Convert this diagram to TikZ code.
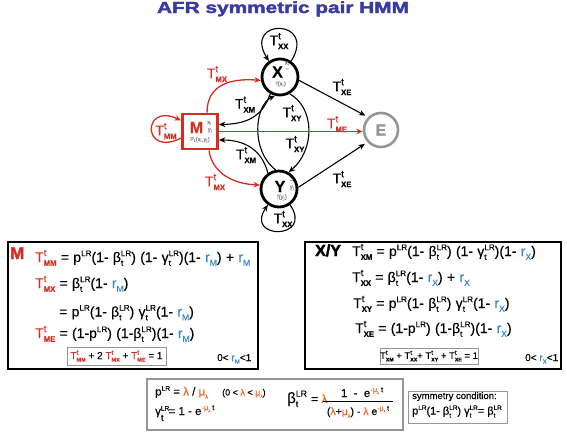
\documentclass[tikz,border=0pt]{standalone}
\usepackage{graphicx}
\usepackage{fontspec}
\setmainfont{Liberation Sans}[FakeBold=0.4]
\newfontfamily\eqfont{Liberation Sans}[FakeBold=0.4,WordSpace=1.1]
\newfontfamily\heavyfont{Liberation Sans Bold}[FakeBold=2.2]
\usetikzlibrary{arrows.meta,calc}
\definecolor{myred}{RGB}{214,45,32}
\definecolor{rblue}{RGB}{55,135,205}
\definecolor{lorange}{RGB}{240,100,35}
\definecolor{ttlblue}{RGB}{58,58,165}
\definecolor{ngray}{RGB}{135,135,135}
\definecolor{egray}{RGB}{150,150,150}
\definecolor{bgray}{RGB}{150,150,150}
\makeatletter
\newcommand\SSgen[4]{%
  \begingroup
  \dimen0=\f@size pt\relax
  \edef\SSa{\strip@pt\dimexpr#1\dimen0\relax}%
  \edef\SSb{\strip@pt\dimexpr#2\dimen0\relax}%
  \setbox0\hbox{\fontsize{\SSa}{\SSa}\selectfont #3}%
  \setbox2\hbox{\fontsize{\SSb}{\SSb}\selectfont #4}%
  \dimen2=\ifdim\wd0>\wd2 \wd0\else\wd2\fi
  \rlap{\raise0.42\dimen0\box0}\rlap{\lower0.27\dimen0\box2}\kern\dimen2
  \endgroup}
\makeatother
\newcommand\Tt[1]{T\SSgen{0.7}{0.55}{t}{\bfseries #1}}
\newcommand\LRt{\SSgen{0.58}{0.58}{LR}{t}}
\newcommand\LRo{\SSgen{0.58}{0.58}{LR}{}}
\newcommand\rM{\textcolor{rblue}{r\SSgen{0.62}{0.62}{}{M}}}
\newcommand\rX{\textcolor{rblue}{r\SSgen{0.62}{0.62}{}{X}}}
\newcommand\lam{\textcolor{lorange}{λ}}
\newcommand\mul{\textcolor{lorange}{μ\SSgen{0.5}{0.5}{}{λ}}}
\newcommand\expo{e\SSgen{0.65}{0.5}{\textcolor{lorange}{-}\mul\ t}{}}
\begin{document}
\begin{tikzpicture}[x=1pt,y=-1pt,
  conn/.style={line width=1.1pt,-{Stealth[length=6.5pt,width=5.5pt]}},
  rconn/.style={conn,draw=myred,line width=1.3pt},
  lbl/.style={font=\fontsize{14}{15}\selectfont,inner sep=0},
  rlbl/.style={lbl,text=myred},
  eqn/.style={font=\eqfont\fontsize{14}{15}\selectfont,inner sep=0,anchor=base west},
  state/.style={circle,draw,line width=2.8pt,minimum size=36pt,inner sep=0},
  tinyl/.style={font=\fontsize{5.8}{6}\selectfont,text=ngray,inner sep=0},
  bigl/.style={font=\fontsize{16}{16}\selectfont\bfseries,inner sep=0},
  bigbox/.style={draw,line width=1.3pt,inner sep=0},
  graybox/.style={draw=bgray,line width=1.0pt,inner sep=0},
  txt/.style={inner sep=0,anchor=base west}]
\useasboundingbox (0,0) rectangle (567,432);
% title
\node[anchor=base,inner sep=0,text=ttlblue] (title) at (283,13)
  {\scalebox{1.3}[1]{\fontsize{16}{16}\heavyfont AFR symmetric pair HMM}};
% states
\node[state] (X) at (280,77) {};
\node[state] (Y) at (279,189) {};
\node[draw=myred,line width=2.8pt,minimum size=35pt,inner sep=0] (M) at (200,131.5) {};
\node[circle,draw=egray,line width=2.6pt,minimum size=34pt,inner sep=0] (E) at (381,130) {};
\node[bigl] (Xt) at (277.5,72) {X};
\node[tinyl] (Xs) at (287,63.5) {x\textsubscript{i}};
\node[tinyl] (Xd) at (287,69.5) {–};
\node[tinyl] (Xf) at (281,84) {f(x\textsubscript{i})};
\node[bigl] (Yt) at (280,186.5) {Y};
\node[tinyl] (Yd) at (291.5,181) {–};
\node[tinyl] (Ys) at (292,188) {y\textsubscript{j}};
\node[tinyl] (Yf) at (282,197.5) {f(y\textsubscript{j})};
\node[bigl,text=myred] (Mt) at (196.5,127.5) {M};
\node[tinyl] (Ms1) at (209.5,123) {x\textsubscript{i}};
\node[tinyl] (Ms2) at (210,130.5) {y\textsubscript{j}};
\node[tinyl] (Mp) at (200,140) {P\textsubscript{t}(x\textsubscript{i},y\textsubscript{j})};
\node[bigl,text=egray] (Et) at (381,130) {E};
% loops
\draw[conn] (X.55) .. controls (318,18) and (242,18) .. (X.125);
\draw[conn] (Y.-55) .. controls (314,240) and (244,240) .. (Y.-125);
\draw[rconn] ($(M.west)+(0,6.5)$) .. controls (142,158) and (142,102) .. ($(M.west)+(0,-11)$);
% M <-> X, Y
\draw[rconn] ($(M.north)+(7,0)$) .. controls (207,85) and (230,78) .. (X.190);
\draw[conn] (X.240) .. controls (262,118) and (245,124) .. ($(M.east)+(0,-7)$);
\draw[conn] (Y.125) .. controls (262,150) and (245,140) .. ($(M.east)+(0,8.5)$);
\draw[rconn] ($(M.south)+(9,0)$) .. controls (212,172) and (232,184) .. (Y.168);
% X <-> Y
\draw[conn] (Y.100) .. controls (250,150) and (255,105) .. (X.255);
\draw[conn] (X.300) .. controls (315,108) and (315,150) .. (Y.60);
% to E
\draw[rconn] (M.east) -- (M.east -| E.west);
\draw[conn,shorten >=3pt] (X.350) -- (E.135);
\draw[conn,shorten >=3pt] (Y.5) -- (E.222);
% labels
\node[rlbl] (lMX1) at (217,74) {\Tt{MX}};
\node[lbl] (lXM1) at (245,104.5) {\Tt{XM}};
\node[lbl] (lXY1) at (292,113) {\Tt{XY}};
\node[lbl] (lXY2) at (295,144) {\Tt{XY}};
\node[lbl] (lXM2) at (246,155) {\Tt{XM}};
\node[rlbl] (lMX2) at (215,182) {\Tt{MX}};
\node[rlbl] (lMM) at (166,131) {\Tt{MM}};
\node[lbl] (lXX1) at (279,41) {\Tt{XX}};
\node[lbl] (lXX2) at (283,219) {\Tt{XX}};
\node[rlbl] (lME) at (337,124) {\Tt{ME}};
\node[lbl] (lXE1) at (342,87) {\Tt{XE}};
\node[lbl] (lXE2) at (342,179) {\Tt{XE}};
% boxes
\node[bigbox,minimum width=250pt,minimum height=127pt] (boxM) at (133,305.5) {};
\node[bigbox,minimum width=256pt,minimum height=127pt] (boxX) at (433,305.5) {};
\node[graybox,line width=1.2pt,minimum width=256pt,minimum height=51pt] (boxB) at (275,404.5) {};
\node[graybox,minimum width=99pt,minimum height=32pt] (boxS) at (457.5,407) {};
% M equations
\node[txt,font=\fontsize{17}{18}\heavyfont,text=myred] (Mhead) at (10,259) {M};
\node[eqn] (m1) at (35,262) {\textcolor{myred}{\Tt{MM}} = p\LRo(1- β\LRt) (1- γ\LRt)(1- \rM) + \rM};
\node[eqn] (m2) at (35,288) {\textcolor{myred}{\Tt{MX}} = β\LRt (1- \rM)};
\node[eqn] (m3) at (59,316.5) {= p\LRo(1- β\LRt) γ\LRt (1- \rM)};
\node[eqn] (m4) at (35,338) {\textcolor{myred}{\Tt{ME}} = (1-p\LRo) (1-β\LRt)(1- \rM)};
\node[graybox,minimum width=99pt,minimum height=18pt,font=\fontsize{10}{11}\selectfont] (sumM) at (116.5,356)
  {\textcolor{myred}{\Tt{MM}} + 2 \textcolor{myred}{\Tt{MX}} + \textcolor{myred}{\Tt{ME}} = 1};
\node[txt,font=\fontsize{10}{11}\selectfont] (rangeM) at (217,361) {0< \rM<1};
% X/Y equations
\node[txt,font=\fontsize{16}{17}\heavyfont] (Xhead) at (315,256) {X/Y};
\node[eqn] (x1) at (352,256) {\Tt{XM} = p\LRo(1- β\LRt) (1- γ\LRt)(1- \rX)};
\node[eqn] (x2) at (352,282) {\Tt{XX} = β\LRt (1- \rX) + \rX};
\node[eqn] (x3) at (353,308) {\Tt{XY} = p\LRo(1- β\LRt) γ\LRt(1- \rX)};
\node[eqn] (x4) at (355,333) {\Tt{XE} = (1-p\LRo) (1-β\LRt)(1- \rX)};
\node[graybox,minimum width=98pt,minimum height=16pt,font=\fontsize{9.5}{10}\selectfont] (sumX) at (429,356)
  {\Tt{XM} + \Tt{XX}+ \Tt{XY} + \Tt{XE} = 1};
\node[txt,font=\fontsize{10}{11}\selectfont] (rangeX) at (525,361) {0< \rX<1};
% bottom box
\node[txt,font=\fontsize{11.5}{12}\selectfont] (pLR) at (155,395.5) {p\LRo\ = \lam\ / \mul};
\node[txt,font=\fontsize{9}{10}\selectfont] (pcond) at (222,395.5) {(0 < \lam\ < \mul)};
\node[txt,font=\fontsize{11.5}{12}\selectfont] (gam) at (155,415)
  {γ\rlap{\raise4.5pt\hbox{\fontsize{6.5}{6}\selectfont LR}}\lower6pt\hbox{\fontsize{9.5}{9}\selectfont t}\kern5pt = 1 - \expo};
\node[txt,font=\fontsize{15}{15}\selectfont] (beta) at (287,403) {β\LRt\ {\fontsize{12}{13}\selectfont = \lam}};
\node[anchor=base,inner sep=0,font=\fontsize{11.5}{12}\selectfont] (bnum) at (362,397) {1\ \ -\ \ \expo};
\draw[line width=0.9pt] (323,401.5) -- (393,401.5);
\node[anchor=base,inner sep=0,font=\fontsize{10.5}{12}\selectfont] (bden) at (358,415) {(\lam+\mul) - \lam\ \expo};
\node[txt,font=\fontsize{9.5}{10}\selectfont] (symt) at (412,399) {symmetry condition:};
\node[txt,font=\fontsize{11}{11}\selectfont] (syme) at (412,414.5) {p\LRo(1- β\LRt) γ\LRt = β\LRt};
\end{tikzpicture}
\end{document}
